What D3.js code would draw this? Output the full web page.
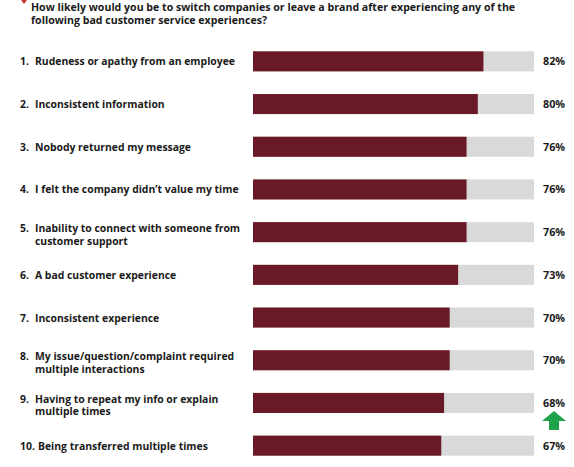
<!DOCTYPE html>
<html>
<head>
<meta charset="utf-8">
<script src="https://cdn.jsdelivr.net/npm/d3@7"></script>
<style>
  body { margin: 0; background: #fff; }
  text { font-family: "Open Sans", sans-serif; fill: #1a1a1a; }
</style>
</head>
<body>
<div id="chart"></div>
<script>
// survey items, each one can wrap to two lines
var categories = [
  ["Rudeness or apathy from an employee"],
  ["Inconsistent information"],
  ["Nobody returned my message"],
  ["I felt the company didn\u2019t value my time"],
  ["Inability to connect with someone from", "customer support"],
  ["A bad customer experience"],
  ["Inconsistent experience"],
  ["My issue/question/complaint required", "multiple interactions"],
  ["Having to repeat my info or explain", "multiple times"],
  ["Being transferred multiple times"]
];
var values = [82, 80, 76, 76, 76, 73, 70, 70, 68, 67];
var titleLines = [
  "How likely would you be to switch companies or leave a brand after experiencing any of the",
  "following bad customer service experiences?"
];

var width = 574, height = 467;
var svg = d3.select("#chart").append("svg")
  .attr("width", width)
  .attr("height", height);

// small red corner mark
svg.append("path")
  .attr("d", "M21,0 L27,0 L24,4 Z")
  .attr("fill", "#c0392b");

svg.selectAll("text.title")
  .data(titleLines).enter().append("text")
  .attr("class", "title")
  .attr("x", 31)
  .attr("y", function (d, i) { return 11 + i * 13; })
  .style("font-size", "10.6px")
  .style("font-weight", 700)
  .text(function (d) { return d; });

var x = d3.scaleLinear().domain([0, 100]).range([253, 534]);
var y = d3.scaleBand()
  .domain(d3.range(values.length))
  .range([40, 467])
  .paddingInner(0.53)
  .paddingOuter(0.265);

var row = svg.selectAll("g.row")
  .data(values).enter().append("g")
  .attr("class", "row");

// grey track = 100%
row.append("rect")
  .attr("x", x(0))
  .attr("y", function (d, i) { return y(i); })
  .attr("width", x(100) - x(0))
  .attr("height", y.bandwidth())
  .attr("fill", "#d9d9d9");

row.append("rect")
  .attr("x", x(0))
  .attr("y", function (d, i) { return y(i); })
  .attr("width", function (d) { return x(d) - x(0); })
  .attr("height", y.bandwidth())
  .attr("fill", "#6a1a27");

row.append("text")
  .attr("x", 543)
  .attr("y", function (d, i) { return y(i) + y.bandwidth() / 2 + 4; })
  .style("font-size", "10.8px")
  .style("font-weight", 700)
  .text(function (d) { return d + "%"; });

// numbers and labels
row.each(function (d, i) {
  var c = y(i) + y.bandwidth() / 2;
  var lines = categories[i];
  var top = lines.length > 1 ? c : c + 4;
  var g = d3.select(this);
  g.append("text")
    .attr("x", 20)
    .attr("y", top)
    .style("font-size", "10.4px")
    .style("font-weight", 700)
    .text((i + 1) + ".");
  g.selectAll("text.lbl")
    .data(lines).enter().append("text")
    .attr("class", "lbl")
    .attr("x", i + 1 >= 10 ? 38 : 35)
    .attr("y", function (l, k) { return top + k * 12.5; })
    .style("font-size", "10.4px")
    .style("font-weight", 700)
    .text(function (l) { return l; });
});

// green up arrow next to item 9
var ax = 554, ay = 411;
svg.append("path")
  .attr("d", "M" + ax + "," + ay +
    " l12,10 h-7 v9 h-10 v-9 h-7 Z")
  .attr("fill", "#1fa34a");
</script>
</body>
</html>
